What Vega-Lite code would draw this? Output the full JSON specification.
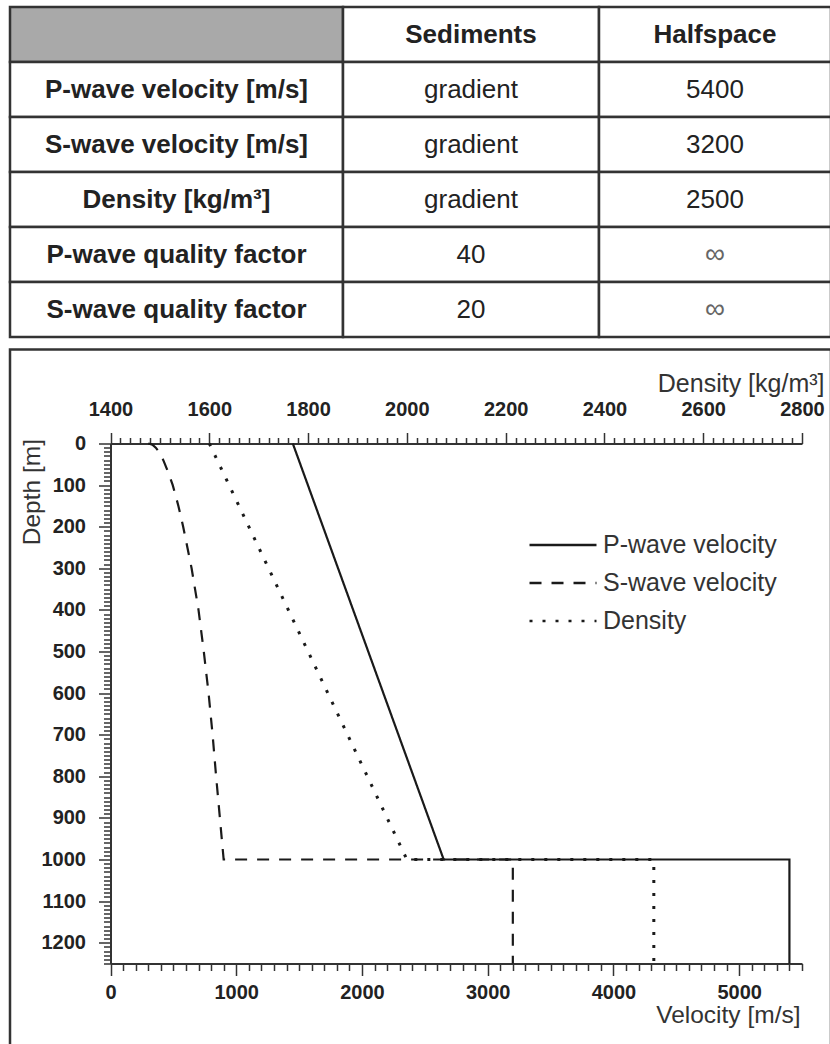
{
  "$schema": "https://vega.github.io/schema/vega-lite/v6.json",
  "background": "white",
  "padding": {"left": 8, "top": 5, "right": 0, "bottom": 0},
  "spacing": 8.5,
  "config": {"view": {"stroke": null}, "font": "Liberation Sans"},
  "datasets": {
    "table": [
      {"r": 0, "c": 0, "t": ""},
      {"r": 1, "c": 0, "t": "P-wave velocity [m/s]"},
      {"r": 2, "c": 0, "t": "S-wave velocity [m/s]"},
      {"r": 3, "c": 0, "t": "Density [kg/m³]"},
      {"r": 4, "c": 0, "t": "P-wave quality factor"},
      {"r": 5, "c": 0, "t": "S-wave quality factor"},
      {"r": 0, "c": 1, "t": "Sediments"},
      {"r": 1, "c": 1, "t": "gradient"},
      {"r": 2, "c": 1, "t": "gradient"},
      {"r": 3, "c": 1, "t": "gradient"},
      {"r": 4, "c": 1, "t": "40"},
      {"r": 5, "c": 1, "t": "20"},
      {"r": 0, "c": 2, "t": "Halfspace"},
      {"r": 1, "c": 2, "t": "5400"},
      {"r": 2, "c": 2, "t": "3200"},
      {"r": 3, "c": 2, "t": "2500"},
      {"r": 4, "c": 2, "t": "∞"},
      {"r": 5, "c": 2, "t": "∞"}
    ],
    "vel": [
      {"param": "P-wave velocity", "i": 0, "v": 1450, "z": 0},
      {"param": "P-wave velocity", "i": 1, "v": 2650, "z": 1000},
      {"param": "P-wave velocity", "i": 2, "v": 5400, "z": 1000},
      {"param": "P-wave velocity", "i": 3, "v": 5400, "z": 1250},
      {"param": "S-wave velocity", "i": 0, "v": 300, "z": 0},
      {"param": "S-wave velocity", "i": 1, "v": 327, "z": 2},
      {"param": "S-wave velocity", "i": 2, "v": 342, "z": 5},
      {"param": "S-wave velocity", "i": 3, "v": 360, "z": 10},
      {"param": "S-wave velocity", "i": 4, "v": 385, "z": 20},
      {"param": "S-wave velocity", "i": 5, "v": 420, "z": 40},
      {"param": "S-wave velocity", "i": 6, "v": 460, "z": 70},
      {"param": "S-wave velocity", "i": 7, "v": 495, "z": 100},
      {"param": "S-wave velocity", "i": 8, "v": 540, "z": 150},
      {"param": "S-wave velocity", "i": 9, "v": 578, "z": 200},
      {"param": "S-wave velocity", "i": 10, "v": 645, "z": 300},
      {"param": "S-wave velocity", "i": 11, "v": 700, "z": 400},
      {"param": "S-wave velocity", "i": 12, "v": 742, "z": 500},
      {"param": "S-wave velocity", "i": 13, "v": 780, "z": 600},
      {"param": "S-wave velocity", "i": 14, "v": 812, "z": 700},
      {"param": "S-wave velocity", "i": 15, "v": 840, "z": 800},
      {"param": "S-wave velocity", "i": 16, "v": 870, "z": 900},
      {"param": "S-wave velocity", "i": 17, "v": 900, "z": 1000},
      {"param": "S-wave velocity", "i": 18, "v": 3200, "z": 1000},
      {"param": "S-wave velocity", "i": 19, "v": 3200, "z": 1250}
    ],
    "dens": [
      {"param": "Density", "i": 0, "rho": 1600, "z": 0},
      {"param": "Density", "i": 1, "rho": 2000, "z": 1000},
      {"param": "Density", "i": 2, "rho": 2500, "z": 1000},
      {"param": "Density", "i": 3, "rho": 2500, "z": 1250}
    ]
  },
  "vconcat": [
    {
      "spacing": 0,
      "bounds": "flush",
      "hconcat": [
        {
          "width": 333, "height": 330,
          "data": {"name": "table"},
          "transform": [{"filter": "datum.c == 0"}],
          "encoding": {"y": {"field": "r", "type": "ordinal", "axis": null, "scale": {"padding": 0}}},
          "layer": [
            {"mark": {"type": "rect", "stroke": "#333333", "strokeWidth": 2.5},
             "encoding": {"fill": {"condition": {"test": "datum.r == 0", "value": "#a9a9a9"}, "value": "#ffffff"}}},
            {"mark": {"type": "text", "font": "Liberation Sans", "fontSize": 26, "fontWeight": "bold", "color": "#222222"},
             "encoding": {"text": {"field": "t"}}}
          ]
        },
        {
          "width": 256, "height": 330,
          "data": {"name": "table"},
          "transform": [{"filter": "datum.c == 1"}],
          "encoding": {"y": {"field": "r", "type": "ordinal", "axis": null, "scale": {"padding": 0}}},
          "layer": [
            {"mark": {"type": "rect", "stroke": "#333333", "strokeWidth": 2.5, "fill": "#ffffff"}},
            {"mark": {"type": "text", "font": "Liberation Sans", "fontSize": 26, "fontWeight": {"expr": "datum.r == 0 ? 'bold' : 'normal'"}, "color": "#222222"},
             "encoding": {"text": {"field": "t"}}}
          ]
        },
        {
          "width": 232, "height": 330,
          "data": {"name": "table"},
          "transform": [{"filter": "datum.c == 2"}],
          "encoding": {"y": {"field": "r", "type": "ordinal", "axis": null, "scale": {"padding": 0}}},
          "layer": [
            {"mark": {"type": "rect", "stroke": "#333333", "strokeWidth": 2.5, "fill": "#ffffff"}},
            {"mark": {"type": "text", "font": "Liberation Sans", "fontSize": {"expr": "datum.t == '∞' ? 28 : 26"}, "fontWeight": {"expr": "datum.r == 0 ? 'bold' : 'normal'"}, "color": {"expr": "datum.t == '∞' ? '#666666' : '#222222'"}},
             "encoding": {"text": {"field": "t"}}}
          ]
        }
      ]
    },
    {
      "width": 821, "height": 697,
      "view": {"stroke": "#333333", "strokeWidth": 2.5},
      "encoding": {
        "y": {
          "field": "z", "type": "quantitative",
          "scale": {"domain": [0, 1250], "range": [94, 614], "nice": false, "zero": false},
          "axis": {
            "orient": "left", "offset": -100.5, "grid": false,
            "values": [0,10,20,30,40,50,60,70,80,90,100,110,120,130,140,150,160,170,180,190,200,210,220,230,240,250,260,270,280,290,300,310,320,330,340,350,360,370,380,390,400,410,420,430,440,450,460,470,480,490,500,510,520,530,540,550,560,570,580,590,600,610,620,630,640,650,660,670,680,690,700,710,720,730,740,750,760,770,780,790,800,810,820,830,840,850,860,870,880,890,900,910,920,930,940,950,960,970,980,990,1000,1010,1020,1030,1040,1050,1060,1070,1080,1090,1100,1110,1120,1130,1140,1150,1160,1170,1180,1190,1200,1210,1220,1230,1240,1250],
            "format": "d",
            "labelExpr": "datum.value % 100 === 0 ? datum.label : ''",
            "tickSize": {"condition": {"test": "datum.value % 100 === 0", "value": 12}, "value": 7},
            "tickColor": "#333333", "tickWidth": 1.5,
            "domainColor": "#333333", "domainWidth": 2,
            "labelFont": "Liberation Sans", "labelFontSize": 20, "labelFontWeight": "bold", "labelColor": "#222222",
            "labelPadding": 13, "labelOverlap": false, "labelFlush": false, "labelBound": false,
            "title": "Depth [m]", "titleFont": "Liberation Sans", "titleFontSize": 24.5, "titleFontWeight": "normal", "titleColor": "#333333",
            "titleAngle": -90, "titleAlign": "right", "titleBaseline": "middle", "titleX": -78, "titleY": 89
          }
        }
      },
      "layer": [
        {
          "data": {"name": "vel"},
          "mark": {"type": "line", "color": "#1a1a1a", "strokeWidth": 2.2, "clip": false},
          "encoding": {
            "x": {
              "field": "v", "type": "quantitative",
              "scale": {"domain": [0, 5500], "range": [100.5, 792], "nice": false, "zero": false},
              "axis": {
                "orient": "bottom", "offset": -83, "grid": false,
                "values": [0,100,200,300,400,500,600,700,800,900,1000,1100,1200,1300,1400,1500,1600,1700,1800,1900,2000,2100,2200,2300,2400,2500,2600,2700,2800,2900,3000,3100,3200,3300,3400,3500,3600,3700,3800,3900,4000,4100,4200,4300,4400,4500,4600,4700,4800,4900,5000,5100,5200,5300,5400,5500],
                "format": "d",
                "labelExpr": "datum.value % 1000 === 0 ? datum.label : ''",
                "tickSize": {"condition": {"test": "datum.value % 1000 === 0", "value": 12}, "value": 7},
                "tickColor": "#333333", "tickWidth": 1.5,
                "domainColor": "#333333", "domainWidth": 2,
                "labelFont": "Liberation Sans", "labelFontSize": 20, "labelFontWeight": "bold", "labelColor": "#222222",
                "labelPadding": 7, "labelOverlap": false, "labelFlush": false, "labelBound": false,
                "title": "Velocity [m/s]", "titleFont": "Liberation Sans", "titleFontSize": 24.5, "titleFontWeight": "normal", "titleColor": "#333333",
                "titleAlign": "right", "titleBaseline": "alphabetic", "titleX": 790, "titleY": 59
              }
            },
            "y": {"field": "z", "type": "quantitative"},
            "order": {"field": "i", "type": "quantitative"},
            "strokeDash": {
              "field": "param", "type": "nominal",
              "scale": {"domain": ["P-wave velocity", "S-wave velocity", "Density"], "range": [[1, 0], [12, 10], [3, 10]]},
              "legend": {
                "orient": "none", "legendX": 538, "legendY": 523, "title": null,
                "symbolType": "M-2.5,0H2.5", "symbolSize": 718, "symbolStrokeWidth": 2.5, "symbolStrokeColor": "#1a1a1a", "symbolFillColor": "transparent",
                "labelFont": "Liberation Sans", "labelFontSize": 25, "labelColor": "#333333", "labelOffset": 25, "labelLimit": 400, "rowPadding": 10, "padding": 0
              }
            }
          }
        },
        {
          "data": {"name": "dens"},
          "mark": {"type": "line", "color": "#1a1a1a", "strokeWidth": 3, "clip": false},
          "encoding": {
            "x": {
              "field": "rho", "type": "quantitative",
              "scale": {"domain": [1400, 2800], "range": [100.5, 792], "nice": false, "zero": false},
              "axis": {
                "orient": "top", "offset": -94, "grid": false,
                "values": [1400,1420,1440,1460,1480,1500,1520,1540,1560,1580,1600,1620,1640,1660,1680,1700,1720,1740,1760,1780,1800,1820,1840,1860,1880,1900,1920,1940,1960,1980,2000,2020,2040,2060,2080,2100,2120,2140,2160,2180,2200,2220,2240,2260,2280,2300,2320,2340,2360,2380,2400,2420,2440,2460,2480,2500,2520,2540,2560,2580,2600,2620,2640,2660,2680,2700,2720,2740,2760,2780,2800],
                "format": "d",
                "labelExpr": "datum.value % 200 === 0 ? datum.label : ''",
                "tickSize": {"condition": {"test": "datum.value % 200 === 0", "value": 11}, "value": 6},
                "tickColor": "#333333", "tickWidth": 1.5,
                "domainColor": "#333333", "domainWidth": 2,
                "labelFont": "Liberation Sans", "labelFontSize": 20, "labelFontWeight": "bold", "labelColor": "#222222",
                "labelPadding": 13, "labelOverlap": false, "labelFlush": false, "labelBound": false,
                "title": "Density [kg/m³]", "titleFont": "Liberation Sans", "titleFontSize": 25, "titleFontWeight": "normal", "titleColor": "#333333",
                "titleAlign": "right", "titleBaseline": "alphabetic", "titleX": 814, "titleY": -52
              }
            },
            "y": {"field": "z", "type": "quantitative"},
            "order": {"field": "i", "type": "quantitative"},
            "strokeDash": {
              "field": "param", "type": "nominal",
              "scale": {"domain": ["P-wave velocity", "S-wave velocity", "Density"], "range": [[1, 0], [12, 10], [3, 10]]},
              "legend": {
                "orient": "none", "legendX": 538, "legendY": 523, "title": null,
                "symbolType": "M-2.5,0H2.5", "symbolSize": 718, "symbolStrokeWidth": 2.5, "symbolStrokeColor": "#1a1a1a", "symbolFillColor": "transparent",
                "labelFont": "Liberation Sans", "labelFontSize": 25, "labelColor": "#333333", "labelOffset": 25, "labelLimit": 400, "rowPadding": 10, "padding": 0
              }
            }
          }
        }
      ],
      "resolve": {"scale": {"x": "independent"}, "axis": {"x": "independent"}}
    }
  ]
}
